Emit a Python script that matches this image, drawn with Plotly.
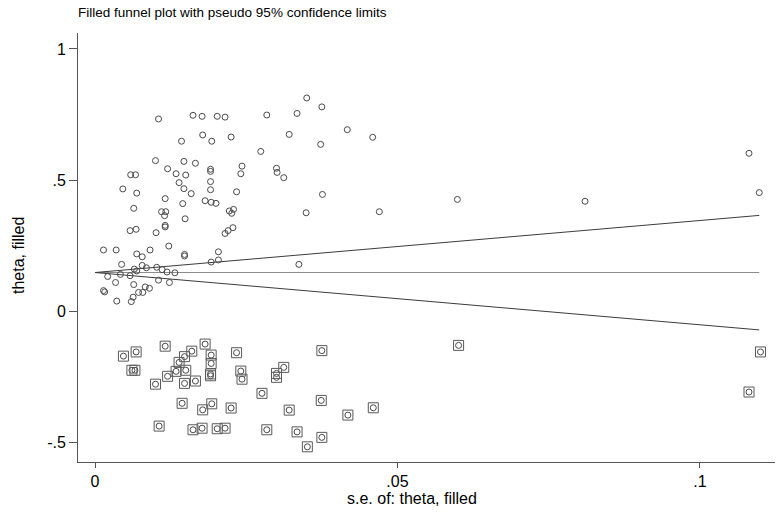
import plotly.graph_objects as go

# Observed studies: standard error and effect estimate
se_obs = [0.0105, 0.0162, 0.0177, 0.0202, 0.0215, 0.0284, 0.0143, 0.0178, 0.0193, 0.0225,
          0.0274, 0.0100, 0.0147, 0.0166, 0.0120, 0.0134, 0.0150, 0.0191, 0.0191, 0.0243,
          0.0241, 0.0300, 0.0301, 0.0059, 0.0067, 0.0046, 0.0069, 0.0139, 0.0147, 0.0159,
          0.0191, 0.0191, 0.0234, 0.0064, 0.0116, 0.0145, 0.0182, 0.0192, 0.0200, 0.0110,
          0.0117, 0.0115, 0.0149, 0.0222, 0.0229, 0.0226, 0.0058, 0.0068, 0.0101, 0.0116,
          0.0116, 0.0215, 0.0220, 0.0228, 0.0014, 0.0035, 0.0069, 0.0078, 0.0091, 0.0122,
          0.0148, 0.0148, 0.0204, 0.0192, 0.0204, 0.0044, 0.0065, 0.0078, 0.0085, 0.0069,
          0.0102, 0.0111, 0.0119, 0.0132, 0.0021, 0.0042, 0.0058, 0.0034, 0.0064, 0.0105,
          0.0123, 0.0014, 0.0016, 0.0083, 0.0090, 0.0072, 0.0079, 0.0036, 0.0063, 0.0060,
          0.0350, 0.0375, 0.0334, 0.0417, 0.0321, 0.0373, 0.0459, 0.0312, 0.0376, 0.0349,
          0.0470, 0.0599, 0.0337, 0.0810, 0.1081, 0.1098]
theta_obs = [0.733, 0.747, 0.743, 0.743, 0.740, 0.748, 0.648, 0.672, 0.648, 0.664,
             0.609, 0.574, 0.571, 0.564, 0.543, 0.524, 0.519, 0.541, 0.533, 0.553,
             0.524, 0.545, 0.529, 0.520, 0.520, 0.466, 0.450, 0.490, 0.467, 0.448,
             0.494, 0.463, 0.455, 0.392, 0.429, 0.410, 0.421, 0.415, 0.411, 0.379,
             0.379, 0.364, 0.352, 0.382, 0.388, 0.373, 0.307, 0.312, 0.299, 0.327,
             0.321, 0.296, 0.307, 0.318, 0.233, 0.233, 0.218, 0.207, 0.233, 0.248,
             0.216, 0.210, 0.226, 0.187, 0.195, 0.178, 0.160, 0.174, 0.165, 0.153,
             0.167, 0.158, 0.149, 0.146, 0.132, 0.140, 0.135, 0.109, 0.101, 0.118,
             0.109, 0.078, 0.073, 0.092, 0.087, 0.071, 0.071, 0.038, 0.053, 0.036,
             0.813, 0.779, 0.754, 0.692, 0.674, 0.636, 0.663, 0.509, 0.445, 0.375,
             0.379, 0.426, 0.178, 0.419, 0.602, 0.452]

# Filled (imputed) studies
se_fill = [0.0047, 0.0068, 0.0061, 0.0066, 0.0116, 0.0100, 0.0120, 0.0139, 0.0148, 0.0160,
           0.0134, 0.0150, 0.0148, 0.0166, 0.0182, 0.0192, 0.0192, 0.0191, 0.0191, 0.0234,
           0.0241, 0.0243, 0.0300, 0.0300, 0.0276, 0.0144, 0.0193, 0.0178, 0.0225, 0.0106,
           0.0162, 0.0177, 0.0202, 0.0215, 0.0284, 0.0375, 0.0312, 0.0374, 0.0321, 0.0418,
           0.0460, 0.0334, 0.0375, 0.0351, 0.0601, 0.1100, 0.1081]
theta_fill = [-0.172, -0.156, -0.226, -0.226, -0.134, -0.279, -0.249, -0.196, -0.174, -0.153,
              -0.230, -0.226, -0.276, -0.267, -0.126, -0.168, -0.200, -0.240, -0.247, -0.159,
              -0.229, -0.260, -0.238, -0.253, -0.314, -0.352, -0.354, -0.377, -0.370, -0.439,
              -0.453, -0.447, -0.449, -0.447, -0.453, -0.151, -0.215, -0.341, -0.378, -0.397,
              -0.369, -0.461, -0.482, -0.518, -0.131, -0.156, -0.309]

# Pseudo 95% confidence limits (read endpoints)
se_line = [0.0, 0.1098]
theta_center = [0.147, 0.147]
theta_upper = [0.147, 0.365]
theta_lower = [0.147, -0.072]

y_ticks = [-0.5, 0, 0.5, 1]
y_ticktext = ["-.5", "0", ".5", "1"]
x_ticks = [0, 0.05, 0.1]
x_ticktext = ["0", ".05", ".1"]

FONT = "Arial, Liberation Sans, Helvetica, sans-serif"
W, H = 777, 513
ML, MR, MT, MB = 78, 2, 33, 51

fig = go.Figure()
fig.add_trace(go.Scatter(x=se_line, y=theta_center, mode="lines",
                         line=dict(color="#8c8c8c", width=1), showlegend=False))
fig.add_trace(go.Scatter(x=se_line, y=theta_upper, mode="lines",
                         line=dict(color="#3c3c3c", width=1), showlegend=False))
fig.add_trace(go.Scatter(x=se_line, y=theta_lower, mode="lines",
                         line=dict(color="#3c3c3c", width=1), showlegend=False))
fig.add_trace(go.Scatter(x=se_obs + se_fill, y=theta_obs + theta_fill, mode="markers",
                         marker=dict(symbol="circle-open", size=6, color="#4a4a4a",
                                     line=dict(color="#4a4a4a", width=1)),
                         showlegend=False))
fig.add_trace(go.Scatter(x=se_fill, y=theta_fill, mode="markers",
                         marker=dict(symbol="square-open", size=10, color="#5a5a5a",
                                     line=dict(color="#5a5a5a", width=1)),
                         showlegend=False))

fig.update_layout(
    width=W, height=H,
    margin=dict(l=ML, r=MR, t=MT, b=MB, autoexpand=False),
    paper_bgcolor="white", plot_bgcolor="white",
    font=dict(family=FONT, color="black"),
    title=dict(text="Filled funnel plot with pseudo 95% confidence limits",
               x=78 / W, xanchor="left", y=1 - 12 / H, yanchor="middle",
               font=dict(size=13.5, family=FONT, color="black")),
    annotations=[
        dict(text="s.e. of: theta, filled", xref="paper", yref="paper",
             x=(412 - ML) / (W - ML - MR),
             y=-(498 - (H - MB)) / (H - MT - MB),
             xanchor="center", yanchor="middle", showarrow=False,
             font=dict(size=16, family=FONT, color="black")),
        dict(text="theta, filled", xref="paper", yref="paper",
             x=-(ML - 18) / (W - ML - MR), y=(H - MB - 255) / (H - MT - MB),
             xanchor="center", yanchor="middle", textangle=-90, showarrow=False,
             font=dict(size=16, family=FONT, color="black")),
    ],
)
fig.update_xaxes(range=[-0.00281, 0.1124], showgrid=False, zeroline=False,
                 showline=True, linecolor="#555555", linewidth=1,
                 ticks="outside", ticklen=5, tickcolor="#555555",
                 tickvals=x_ticks, ticktext=x_ticktext, automargin=False,
                 tickfont=dict(size=16))
fig.update_yaxes(range=[-0.576, 1.061], showgrid=False, zeroline=False,
                 showline=True, linecolor="#555555", linewidth=1,
                 ticks="outside", ticklen=8, tickcolor="#555555",
                 tickvals=y_ticks, ticktext=y_ticktext, automargin=False,
                 tickfont=dict(size=16))

fig.write_html("out.html", config={"displayModeBar": False},
               post_script="document.body.style.margin='0';document.body.style.padding='0';")
